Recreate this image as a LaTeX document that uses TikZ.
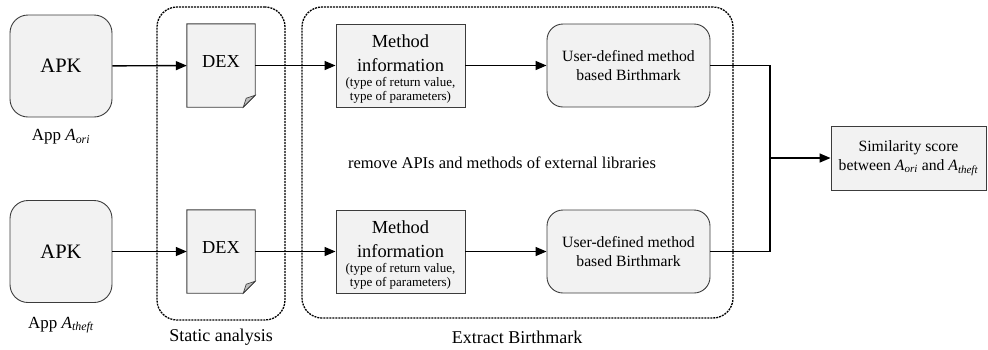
\documentclass[tikz,border=0pt]{standalone}
\usepackage{fontspec}
\setmainfont{Liberation Serif}
\usetikzlibrary{arrows.meta}
\definecolor{boxgray}{RGB}{242,242,242}
\definecolor{foldgray}{RGB}{190,190,190}
\definecolor{edgegray}{RGB}{60,60,60}
\begin{document}
\begin{tikzpicture}[x=1pt,y=-1pt,
  apkbox/.style={draw=edgegray, fill=boxgray, line width=0.9pt, rounded corners=18pt,
     minimum width=102pt, minimum height=102pt, inner sep=0pt, font=\fontsize{20.5}{24}\selectfont},
  dexbox/.style={minimum width=68pt, minimum height=83pt, inner sep=0pt, font=\fontsize{18.3}{22}\selectfont},
  methbox/.style={draw=edgegray, fill=boxgray, line width=0.9pt, minimum width=129pt, minimum height=83pt,
     inner sep=0pt},
  bigtxt/.style={font=\fontsize{18.4}{22}\selectfont, inner sep=0pt, anchor=base},
  smalltxt/.style={font=\fontsize{13}{15}\selectfont, inner sep=0pt, anchor=base},
  userbox/.style={draw=edgegray, fill=boxgray, line width=0.9pt, rounded corners=16pt, minimum width=163pt,
     minimum height=83pt, inner sep=0pt, align=center, font=\fontsize{15.7}{19}\selectfont},
  simbox/.style={draw=edgegray, fill=boxgray, line width=0.9pt, minimum width=155pt, minimum height=64pt,
     inner sep=0pt, align=center, font=\fontsize{15.7}{19}\selectfont},
  group/.style={draw=black, line width=1.3pt, dash pattern=on 2pt off 1pt, rounded corners=20pt, inner sep=0pt},
  lbl/.style={font=\fontsize{18}{22}\selectfont, inner sep=0pt},
  applbl/.style={font=\fontsize{17}{20}\selectfont, inner sep=0pt},
  arr/.style={line width=1.4pt, -{Triangle[length=11pt,width=9pt]}},
  ln/.style={line width=1.4pt},
]
\useasboundingbox (0,0) rectangle (988,349);

% group boxes
\node[group, minimum width=128pt, minimum height=313pt] (static) at (221,163.5) {};
\node[group, minimum width=431pt, minimum height=311pt] (extract) at (517.5,162.5) {};
\node[lbl] (staticlbl) at (221,337) {Static analysis};
\node[lbl] (extractlbl) at (517,337) {Extract Birthmark};
\node[font=\fontsize{16.5}{20}\selectfont, inner sep=0pt] (remove) at (502,163) {remove APIs and methods of external libraries};

% APKs
\node[apkbox] (apk1) at (61,66) {APK};
\node[apkbox] (apk2) at (61,251.5) {APK};
\node[applbl] (app1) at (61,137) {App \textit{A}\textsubscript{\textit{ori}}};
\node[applbl] (app2) at (61,325) {App \textit{A}\textsubscript{\textit{theft}}};

% DEX documents
\foreach \n/\y in {dex1/65.5, dex2/251.5}{
  \node[dexbox] (\n) at (221,\y) {};
  \draw[draw=edgegray, fill=boxgray, line width=0.9pt]
     (\n.north west) -- (\n.north east) -- ([yshift=12pt]\n.south east)
     -- ([xshift=-12pt]\n.south east) -- (\n.south west) -- cycle;
  \draw[draw=edgegray, fill=foldgray, line width=0.6pt]
     ([yshift=12pt]\n.south east) -- ([xshift=-9pt,yshift=9pt]\n.south east)
     -- ([xshift=-12pt]\n.south east) -- cycle;
  \node[dexbox] (\n t) at ([yshift=4pt]\n.center) {DEX};
}

% Method information
\foreach \n/\y in {meth1/65.5, meth2/251.5}{
  \node[methbox] (\n) at (400.5,\y) {};
  \node[bigtxt] (\n a) at ([yshift=18.5pt]\n.center) {Method};
  \node[bigtxt] (\n b) at ([yshift=-6pt]\n.center) {information};
  \node[smalltxt] (\n c) at ([yshift=-20.5pt]\n.center) {(type of return value,};
  \node[smalltxt] (\n d) at ([yshift=-35pt]\n.center) {type of parameters)};
}

% User-defined
\node[userbox] (user1) at (628.5,65.5) {User-defined method\\ based Birthmark};
\node[userbox] (user2) at (628.5,251.5) {User-defined method\\ based Birthmark};

% Similarity
\node[simbox] (sim) at (908.5,158) {Similarity score\\ between \textit{A}\textsubscript{\textit{ori}} and \textit{A}\textsubscript{\textit{theft}}};

% connectors
\draw[arr] (apk1) -- (dex1);
\draw[arr] (apk2) -- (dex2);
\draw[arr] (dex1) -- (meth1);
\draw[arr] (dex2) -- (meth2);
\draw[arr] (meth1) -- (user1);
\draw[arr] (meth2) -- (user2);
\coordinate (join) at (770,158);
\draw[ln] (user1.east) -| (join);
\draw[ln] (user2.east) -| (join);
\draw[arr] (join) -- (sim.west);
\end{tikzpicture}
\end{document}
